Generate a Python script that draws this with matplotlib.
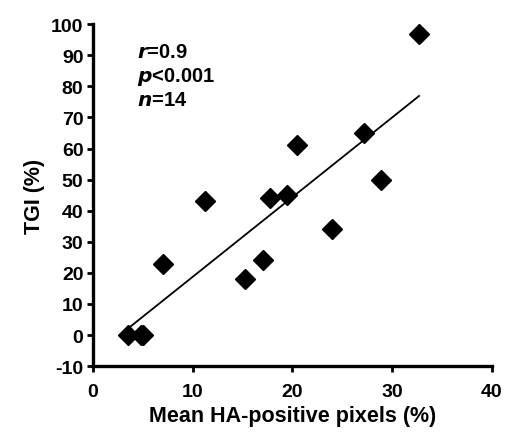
import numpy as np
import matplotlib
matplotlib.use("Agg")
from matplotlib import pyplot as plt

# Mean HA-positive pixels (%) vs tumour growth inhibition (%)
ha_pixels = [3.5, 4.8, 5.0, 7.0, 11.2, 15.2, 17.0, 17.7, 19.5, 20.5, 24.0, 27.2, 28.9, 32.7]
tgi = [0, 0, 0, 23, 43, 18, 24, 44, 45, 61, 34, 65, 50, 97]
stats_lines = [("r", "=0.9"), ("p", "<0.001"), ("n", "=14")]

plt.rcParams["font.family"] = ["Liberation Sans", "DejaVu Sans"]
plt.rcParams["font.weight"] = "bold"
plt.rcParams["axes.unicode_minus"] = False

fig = plt.figure(figsize=(5.06, 4.35), dpi=100)
ax = fig.add_axes([0.184, 0.156, 0.788, 0.786])

x = np.array(ha_pixels)
y = np.array(tgi)
ax.plot(x, y, "D", color="black", markersize=10.5, zorder=3)

# least squares trend line over the data range
slope, icpt = np.polyfit(x, y, 1)
xs = np.array([x.min(), x.max()])
ax.plot(xs, slope * xs + icpt, color="black", lw=1.3)

ax.set_xlim(0, 40)
ax.set_ylim(-10, 100)
ax.set_xticks(np.arange(0, 41, 10))
ax.set_yticks(np.arange(-10, 101, 10))
for side in ("top", "right"):
    ax.spines[side].set_visible(False)
for side in ("left", "bottom"):
    ax.spines[side].set_linewidth(2.4)
ax.tick_params(width=2, length=4, labelsize=14, pad=3)
ax.tick_params(axis="x", pad=8)

ax.set_xlabel("Mean HA-positive pixels (%)", fontsize=15.5, fontweight="bold", labelpad=4)
ax.set_ylabel("TGI (%)", fontsize=15.5, fontweight="bold", labelpad=4)

for i, (sym, rest) in enumerate(stats_lines):
    ax.text(0.11, 0.92 - i * 0.07, r"$\mathbf{\it{%s}}$" % sym + rest,
            transform=ax.transAxes, fontsize=14.5, fontweight="bold", va="center")

fig.savefig("out.png", dpi=100)
